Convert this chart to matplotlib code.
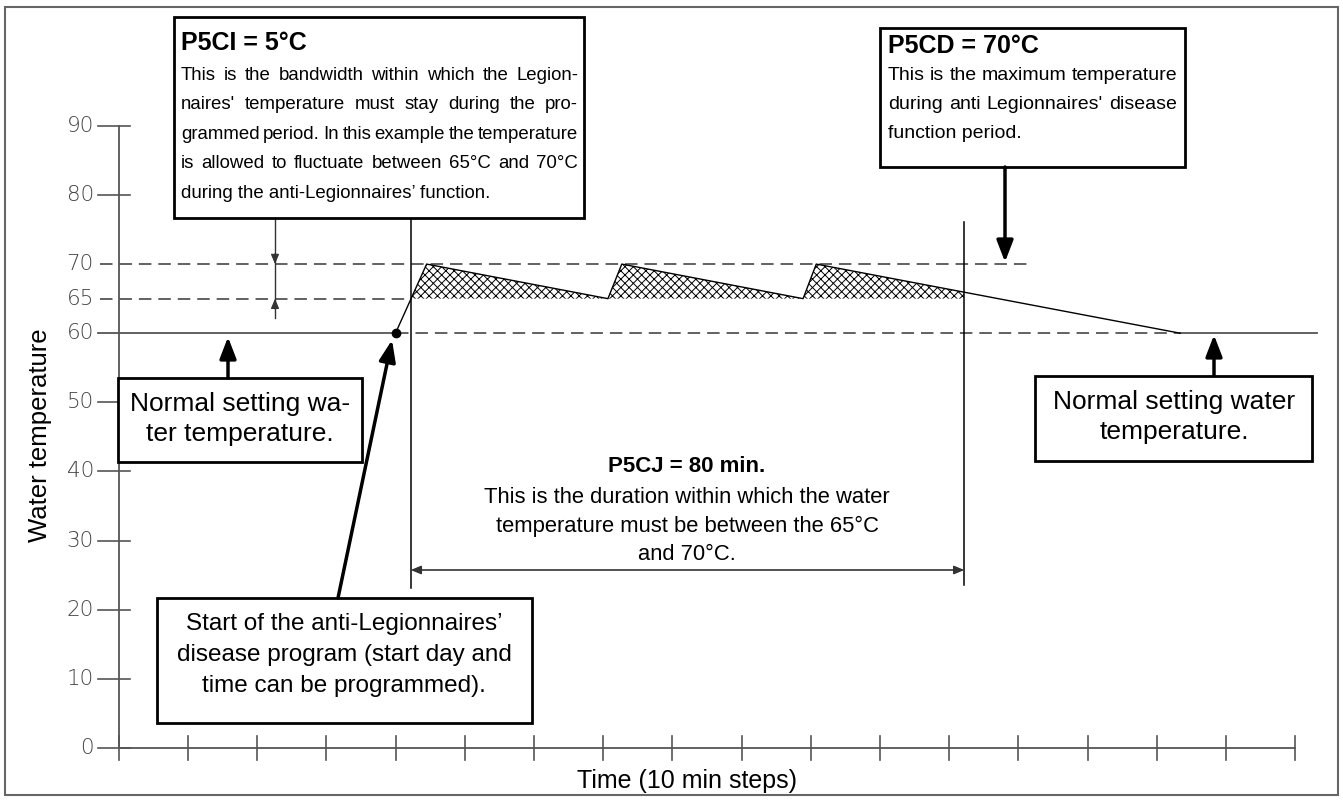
import matplotlib
matplotlib.use('Agg')
import matplotlib.pyplot as plt
from matplotlib.patches import Rectangle

plt.rcParams['font.family'] = ['Liberation Sans', 'DejaVu Sans']
plt.rcParams['lines.scale_dashes'] = False
plt.rcParams['hatch.linewidth'] = 0.7

# data (x in 10 min steps, y in degC)
y_ticks = [0, 10, 20, 30, 40, 50, 60, 65, 70, 80, 90]
x_ticks = list(range(0, 18))
normal_temp = 60
band_low, band_high = 65, 70
profile_x = [4.0, 4.45, 7.07, 7.27, 9.89, 10.08, 15.34]
profile_y = [60, 70, 65, 70, 65, 70, 60]
program_start = 4.0
period_start, period_end = 4.22, 12.22

# layout helpers: pixel position -> data coords
W, H = 1343, 800
X0, Y0 = 118.7, 748
SX, SY = 69.2, 6.913


def px(x):
    return (x - X0) / SX


def py(y):
    return (Y0 - y) / SY


fig = plt.figure(figsize=(W / 100, H / 100), dpi=100)
ax = fig.add_axes([0, 0, 1, 1])
ax.set_xlim(px(0), px(W))
ax.set_ylim(py(H), py(0))
ax.axis('off')
renderer = fig.canvas.get_renderer()

# outer frame
fig.patches.append(Rectangle((5 / W, 1 - 795 / H), 1333 / W, 788 / H, transform=fig.transFigure,
                             fill=False, ec='#666', lw=1.5))

grey = '#555'
dash = (0, (9, 5))

# axes
ax.plot([0, 0], [0, 90], color=grey, lw=1.3)
ax.plot([0, x_ticks[-1]], [0, 0], color=grey, lw=1.3)
for t in y_ticks:
    if t not in (normal_temp, band_low, band_high):
        ax.plot([px(98), px(130)], [t, t], color=grey, lw=1.2)
    ax.text(px(94), t, str(t), ha='right', va='center', fontsize=15.5,
            family='DejaVu Sans', fontweight='light', color='#444')
for t in x_ticks:
    ax.plot([t, t], [py(736), py(760)], color=grey, lw=1.2)

# reference lines
ax.plot([px(98), program_start], [normal_temp] * 2, color=grey, lw=1.3)
ax.plot([program_start, profile_x[-1]], [normal_temp] * 2, color=grey, lw=1.3, linestyle=dash)
ax.plot([profile_x[-1], px(1317)], [normal_temp] * 2, color=grey, lw=1.3)
ax.plot([px(100), px(1033)], [band_high] * 2, color=grey, lw=1.3, linestyle=dash)
ax.plot([px(100), period_start], [band_low] * 2, color=grey, lw=1.3, linestyle=dash)

# hatched band
fill = ax.fill_between(profile_x, band_low, profile_y, facecolor='none', edgecolor='black',
                       hatch='xxxx', linewidth=0)
fill.set_clip_path(Rectangle((period_start, band_low), period_end - period_start,
                             band_high - band_low + 1, transform=ax.transData))
ax.plot(profile_x, profile_y, color='black', lw=1)
ax.plot(program_start, normal_temp, 'o', ms=6, color='black')

# period verticals and duration arrow
ax.plot([period_start] * 2, [py(588), py(213)], color='black', lw=1.1)
ax.plot([period_end] * 2, [py(585), py(222)], color='black', lw=1.1)
ax.annotate('', xy=(period_end, py(570)), xytext=(period_start, py(570)),
            arrowprops=dict(arrowstyle='<|-|>,head_length=0.6,head_width=0.25', lw=1.2,
                            color='#333', shrinkA=0, shrinkB=0))

# bandwidth marker
bx = px(275)
ax.plot([bx, bx], [py(218), py(318)], color='#333', lw=1)
ax.annotate('', xy=(bx, band_high), xytext=(bx, band_high + 1.5),
            arrowprops=dict(arrowstyle='-|>,head_length=0.6,head_width=0.25', lw=0.8,
                            color='#333', shrinkA=0, shrinkB=0))
ax.annotate('', xy=(bx, band_low), xytext=(bx, band_low - 1.5),
            arrowprops=dict(arrowstyle='-|>,head_length=0.6,head_width=0.25', lw=0.8,
                            color='#333', shrinkA=0, shrinkB=0))


def arrow(x1, y1, x2, y2):
    ax.annotate('', xy=(px(x2), py(y2)), xytext=(px(x1), py(y1)),
                arrowprops=dict(arrowstyle='-|>,head_length=1.3,head_width=0.5', lw=2.5,
                                color='black', shrinkA=0, shrinkB=0), zorder=4)


arrow(228, 378, 228, 337)
arrow(1214, 375, 1214, 335)
arrow(1005, 167, 1005, 262)
arrow(338, 598, 392, 340)


def box(x1, y1, x2, y2):
    ax.add_patch(Rectangle((px(x1), py(y2)), px(x2) - px(x1), py(y1) - py(y2),
                           fc='white', ec='black', lw=2, zorder=3))


box(174, 17, 584, 218)
box(880, 28, 1185, 167)
box(118, 378, 362, 462)
box(1035, 376, 1312, 461)
box(157, 598, 532, 723)


def justified(lines, x1, x2, y_first, step, fs):
    for i, line in enumerate(lines):
        y = py(y_first + i * step)
        words = line.split(' ')
        if i == len(lines) - 1:
            ax.text(px(x1), y, line, ha='left', va='center', fontsize=fs, zorder=5)
            continue
        arts = [ax.text(0, y, w, ha='left', va='center', fontsize=fs, zorder=5) for w in words]
        widths = [a.get_window_extent(renderer).width for a in arts]
        gap = (x2 - x1 - sum(widths)) / (len(words) - 1)
        cur = x1
        for a, w in zip(arts, widths):
            a.set_x(px(cur))
            cur += w + gap


def centered(lines, xc, y_first, step, fs):
    for i, line in enumerate(lines):
        ax.text(px(xc), py(y_first + i * step), line, ha='center', va='center',
                fontsize=fs, zorder=5)


ax.text(px(181), py(43), 'P5CI = 5°C', fontsize=18, fontweight='bold', va='center', zorder=5)
justified(['This is the bandwidth within which the Legion-',
           "naires' temperature must stay during the pro-",
           'grammed period. In this example the temperature',
           'is allowed to fluctuate between 65°C and 70°C',
           'during the anti-Legionnaires’ function.'], 181, 578, 75, 29.6, 13.4)

ax.text(px(888), py(46), 'P5CD = 70°C', fontsize=18, fontweight='bold', va='center', zorder=5)
justified(['This is the maximum temperature',
           "during anti Legionnaires' disease",
           'function period.'], 888, 1177, 75, 29.3, 14)

centered(['Normal setting wa-', 'ter temperature.'], 240, 404, 30, 19)
centered(['Normal setting water', 'temperature.'], 1174, 402, 30, 19)
centered(['Start of the anti-Legionnaires’', 'disease program (start day and',
          'time can be programmed).'], 344, 624, 31, 17.5)

ax.text(px(687), py(467), 'P5CJ = 80 min.', ha='center', va='center', fontsize=16,
        fontweight='bold')
centered(['This is the duration within which the water',
          'temperature must be between the 65°C', 'and 70°C.'], 687, 497, 29, 15.8)

ax.text(px(40), py(435), 'Water temperature', rotation=90, ha='center', va='center',
        fontsize=18.5)
ax.text(px(687), py(781), 'Time (10 min steps)', ha='center', va='center', fontsize=18)

fig.savefig('out.png', dpi=100)
